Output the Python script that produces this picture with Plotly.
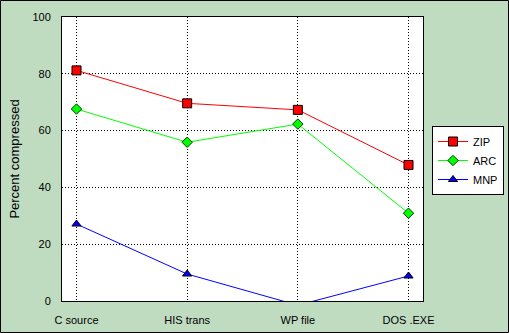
import plotly.graph_objects as go

categories = ["C source", "HIS trans", "WP file", "DOS .EXE"]
zip_vals = [81.2, 69.6, 67.3, 47.9]
arc_vals = [67.6, 55.9, 62.3, 30.9]
mnp_vals = [27.1, 9.5, -1.5, 8.8]
y_ticks = [0, 20, 40, 60, 80, 100]

W, H = 509, 333
L, R, T, B = 62, 86, 17, 32
pw, ph = W - L - R, H - T - B

def px_x(p):
    return (p - L) / pw

def px_y(p):
    return (H - B - p) / ph

fig = go.Figure()
xs = list(range(len(categories)))
fig.add_trace(go.Scatter(x=xs, y=zip_vals, name="ZIP", mode="lines+markers",
                         line=dict(color="#FF0000", width=1),
                         marker=dict(symbol="square", size=9, color="#FF0000",
                                     line=dict(color="black", width=1))))
fig.add_trace(go.Scatter(x=xs, y=arc_vals, name="ARC", mode="lines+markers",
                         line=dict(color="#00FF00", width=1),
                         marker=dict(symbol="diamond", size=8, color="#00FF00",
                                     line=dict(color="#004000", width=1))))
fig.add_trace(go.Scatter(x=xs, y=mnp_vals, name="MNP", mode="lines+markers",
                         line=dict(color="#0000FF", width=1),
                         marker=dict(symbol="triangle-up", size=8, color="#0000FF",
                                     line=dict(color="black", width=1))))

font = dict(family="Liberation Sans, Arial, sans-serif", size=11, color="black")

leg_x0 = 432
leg_y0 = 126

fig.update_layout(
    width=W, height=H,
    margin=dict(l=L, r=R, t=T, b=B, pad=0, autoexpand=False),
    paper_bgcolor="#C0DCC0",
    plot_bgcolor="white",
    font=font,
    showlegend=True,
    legend=dict(x=px_x(leg_x0), y=px_y(leg_y0), xanchor="left", yanchor="top",
                bgcolor="white", bordercolor="black", borderwidth=1,
                font=dict(family="Liberation Sans, Arial, sans-serif", size=11),
                itemwidth=30, tracegroupgap=0),
    xaxis=dict(range=[-0.131, 3.131], tickmode="array", tickvals=xs,
               ticktext=categories, showgrid=True, gridcolor="black",
               griddash="1px,2px", gridwidth=1, zeroline=False,
               showline=True, linecolor="black", linewidth=1, mirror=True,
               ticks="", ticklabelstandoff=9, automargin=False, fixedrange=True),
    yaxis=dict(range=[0, 100], tickmode="array", tickvals=y_ticks,
               showgrid=True, gridcolor="black", griddash="1px,2px", gridwidth=1,
               zeroline=False, showline=True, linecolor="black", linewidth=1,
               mirror=True, ticks="", ticklabelstandoff=8, automargin=False,
               title=dict(text="Percent compressed", standoff=9),
               fixedrange=True),
    shapes=[
        dict(type="rect", xref="paper", yref="paper",
             x0=px_x(leg_x0 + 3), x1=px_x(leg_x0 + 72), y0=px_y(195), y1=px_y(leg_y0 + 3),
             fillcolor="#808080", line=dict(width=0), layer="below"),
        dict(type="rect", xref="paper", yref="paper",
             x0=px_x(0.5), x1=px_x(508.5), y0=px_y(332.5), y1=px_y(0.5),
             line=dict(color="black", width=1), fillcolor="rgba(0,0,0,0)"),
    ],
)

fig.write_html("out.html")
